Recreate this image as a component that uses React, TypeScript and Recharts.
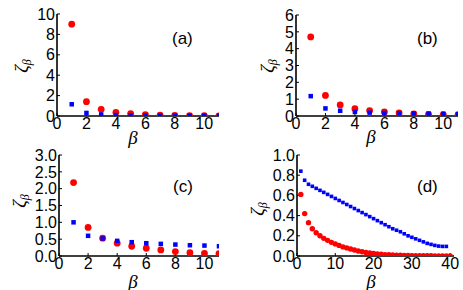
import React from 'react';
import { ScatterChart, Scatter, XAxis, YAxis } from 'recharts';

// beta values for panels a-c
const betaShort = [1, 2, 3, 4, 5, 6, 7, 8, 9, 10, 11];

const aRed = [9.0, 1.4, 0.65, 0.36, 0.22, 0.14, 0.09, 0.06, 0.04, 0.03, 0.02];
const aBlue = [1.15, 0.3, 0.15, 0.09, 0.06, 0.05, 0.04, 0.03, 0.03, 0.03, 0.02];

const bRed = [4.7, 1.22, 0.66, 0.43, 0.32, 0.24, 0.18, 0.13, 0.1, 0.08, 0.06];
const bBlue = [1.18, 0.45, 0.31, 0.24, 0.2, 0.18, 0.16, 0.15, 0.14, 0.13, 0.12];

const cRed = [2.18, 0.85, 0.53, 0.38, 0.29, 0.23, 0.18, 0.13, 0.1, 0.08, 0.07];
const cBlue = [1.0, 0.6, 0.52, 0.45, 0.41, 0.38, 0.36, 0.34, 0.32, 0.31, 0.29];

// panel d
const betaLong = [
  1, 2, 3, 4, 5, 6, 7, 8, 9, 10, 11, 12, 13, 14, 15, 16, 17, 18, 19, 20,
  21, 22, 23, 24, 25, 26, 27, 28, 29, 30, 31, 32, 33, 34, 35, 36, 37, 38, 39, 40,
];
const dBlue = [
  0.84, 0.75, 0.71, 0.69, 0.67, 0.65, 0.63, 0.61, 0.59, 0.57, 0.55, 0.53, 0.51,
  0.49, 0.47, 0.45, 0.43, 0.41, 0.39, 0.37, 0.35, 0.33, 0.31, 0.29, 0.27, 0.255,
  0.24, 0.22, 0.2, 0.185, 0.17, 0.155, 0.14, 0.125, 0.115, 0.105, 0.098, 0.095,
  0.095,
];
const dRed = [
  0.61, 0.42, 0.33, 0.27, 0.23, 0.2, 0.175, 0.155, 0.135, 0.12, 0.105, 0.09,
  0.08, 0.07, 0.06, 0.05, 0.042, 0.035, 0.03, 0.025, 0.02, 0.017, 0.014, 0.012,
  0.01, 0.008, 0.007, 0.006, 0.005, 0.004, 0.003, 0.003, 0.002, 0.002, 0.002,
  0.001, 0.001, 0.001, 0.001, 0.001,
];

const xTicksShort = [0, 2, 4, 6, 8, 10];
const xTicksLong = [0, 10, 20, 30, 40];
const aYTicks = [0, 2, 4, 6, 8, 10];
const bYTicks = [0, 1, 2, 3, 4, 5, 6];
const cYTicks = [0, 0.5, 1.0, 1.5, 2.0, 2.5, 3.0];
const dYTicks = [0, 0.2, 0.4, 0.6, 0.8, 1.0];

const toRows = (xs: number[], ys: number[]) => ys.map((y, i) => ({ x: xs[i], y }));

const RED = '#ff0000';
const BLUE = '#0000ff';
const tickFont = { fontSize: 16, fill: '#000', fontFamily: 'Liberation Sans, Arial, sans-serif' };
const blank = () => '';

const dot = (r: number) => (p: any) => <circle cx={p.cx} cy={p.cy} r={r} fill={RED} />;
const square = (s: number) => (p: any) => (
  <rect x={p.cx - s / 2} y={p.cy - s / 2} width={s} height={s} fill={BLUE} />
);

type PanelProps = {
  left: number;
  top: number;
  plot: { l: number; t: number; r: number; b: number };
  xDomain: [number, number];
  xTicks: number[];
  yDomain: [number, number];
  yTicks: number[];
  yFmt: (v: number) => string;
  red: { x: number; y: number }[];
  blue: { x: number; y: number }[];
  dotR: number;
  sq: number;
};

function Panel(p: PanelProps) {
  const W = 231;
  const H = 145;
  const axisStroke = { stroke: '#000', strokeWidth: 1.6 };
  const tl = { stroke: '#000', strokeWidth: 1 };
  return (
    <div style={{ position: 'absolute', left: p.left, top: p.top }}>
      <ScatterChart
        width={W}
        height={H}
        margin={{ left: 0, top: p.plot.t, right: W - p.plot.r, bottom: 0 }}
      >
        <XAxis
          xAxisId="b"
          type="number"
          dataKey="x"
          domain={p.xDomain}
          ticks={p.xTicks}
          allowDataOverflow
          height={H - p.plot.b}
          tick={tickFont}
          tickSize={-3}
          tickMargin={5}
          axisLine={axisStroke}
          tickLine={tl}
          interval={0}
        />
        <XAxis
          xAxisId="t"
          orientation="top"
          type="number"
          dataKey="x"
          domain={p.xDomain}
          ticks={p.xTicks}
          allowDataOverflow
          height={0}
          tickFormatter={blank}
          tickSize={-3}
          axisLine={axisStroke}
          tickLine={tl}
          interval={0}
        />
        <YAxis
          yAxisId="l"
          type="number"
          dataKey="y"
          domain={p.yDomain}
          ticks={p.yTicks}
          allowDataOverflow
          width={p.plot.l}
          tick={tickFont}
          tickFormatter={p.yFmt}
          tickSize={-3}
          tickMargin={5}
          axisLine={axisStroke}
          tickLine={tl}
          interval={0}
        />
        <YAxis
          yAxisId="r"
          orientation="right"
          type="number"
          dataKey="y"
          domain={p.yDomain}
          ticks={p.yTicks}
          allowDataOverflow
          width={0}
          tickFormatter={blank}
          tickSize={-3}
          axisLine={axisStroke}
          tickLine={tl}
          interval={0}
        />
        <Scatter
          xAxisId="b"
          yAxisId="l"
          data={p.red}
          shape={dot(p.dotR)}
          isAnimationActive={false}
        />
        <Scatter
          xAxisId="b"
          yAxisId="l"
          data={p.blue}
          shape={square(p.sq)}
          isAnimationActive={false}
        />
      </ScatterChart>
    </div>
  );
}

const labelFont: React.CSSProperties = {
  position: 'absolute',
  fontFamily: 'Liberation Serif, Times New Roman, serif',
  fontStyle: 'italic',
  fontSize: 19,
  color: '#000',
  lineHeight: 1,
  whiteSpace: 'nowrap',
};
const tagFont: React.CSSProperties = {
  position: 'absolute',
  fontFamily: 'Liberation Sans, Arial, sans-serif',
  fontSize: 17,
  color: '#000',
  lineHeight: 1,
};

function ZetaLabel({ cx, cy }: { cx: number; cy: number }) {
  return (
    <div
      style={{
        ...labelFont,
        left: cx,
        top: cy,
        transform: 'translate(-50%, -50%) rotate(-90deg)',
      }}
    >
      ζ<sub style={{ fontSize: 12, verticalAlign: '-3px' }}>β</sub>
    </div>
  );
}

function BetaLabel({ cx, cy }: { cx: number; cy: number }) {
  return (
    <div style={{ ...labelFont, left: cx, top: cy, transform: 'translate(-50%, -50%)' }}>β</div>
  );
}

export default function App() {
  const f0 = (v: number) => String(v);
  const f1 = (v: number) => v.toFixed(1);
  return (
    <div
      style={{
        position: 'fixed',
        left: 0,
        top: 0,
        width: 463,
        height: 290,
        background: '#fff',
        overflow: 'hidden',
      }}
    >
      <Panel
        left={0}
        top={0}
        plot={{ l: 57, t: 14, r: 219, b: 116 }}
        xDomain={[0, 11]}
        xTicks={xTicksShort}
        yDomain={[0, 10]}
        yTicks={aYTicks}
        yFmt={f0}
        red={toRows(betaShort, aRed)}
        blue={toRows(betaShort, aBlue)}
        dotR={3.4}
        sq={4.5}
      />
      <Panel
        left={232}
        top={0}
        plot={{ l: 64, t: 15, r: 226, b: 116 }}
        xDomain={[0, 11]}
        xTicks={xTicksShort}
        yDomain={[0, 6]}
        yTicks={bYTicks}
        yFmt={f0}
        red={toRows(betaShort, bRed)}
        blue={toRows(betaShort, bBlue)}
        dotR={3.4}
        sq={4.5}
      />
      <Panel
        left={0}
        top={145}
        plot={{ l: 59, t: 10, r: 219, b: 111 }}
        xDomain={[0, 11]}
        xTicks={xTicksShort}
        yDomain={[0, 3]}
        yTicks={cYTicks}
        yFmt={f1}
        red={toRows(betaShort, cRed)}
        blue={toRows(betaShort, cBlue)}
        dotR={3.4}
        sq={4.5}
      />
      <Panel
        left={232}
        top={145}
        plot={{ l: 65, t: 10, r: 222, b: 111 }}
        xDomain={[0, 41]}
        xTicks={xTicksLong}
        yDomain={[0, 1]}
        yTicks={dYTicks}
        yFmt={f1}
        red={toRows(betaLong, dRed)}
        blue={toRows(betaLong, dBlue)}
        dotR={2.7}
        sq={3.6}
      />

      <ZetaLabel cx={22} cy={66} />
      <ZetaLabel cx={268} cy={66} />
      <ZetaLabel cx={20} cy={201} />
      <ZetaLabel cx={258} cy={209} />

      <BetaLabel cx={133} cy={137} />
      <BetaLabel cx={371} cy={136} />
      <BetaLabel cx={133} cy={281} />
      <BetaLabel cx={371} cy={281} />

      <div style={{ ...tagFont, left: 172, top: 30 }}>(a)</div>
      <div style={{ ...tagFont, left: 417, top: 30 }}>(b)</div>
      <div style={{ ...tagFont, left: 173, top: 178 }}>(c)</div>
      <div style={{ ...tagFont, left: 417, top: 178 }}>(d)</div>
    </div>
  );
}
